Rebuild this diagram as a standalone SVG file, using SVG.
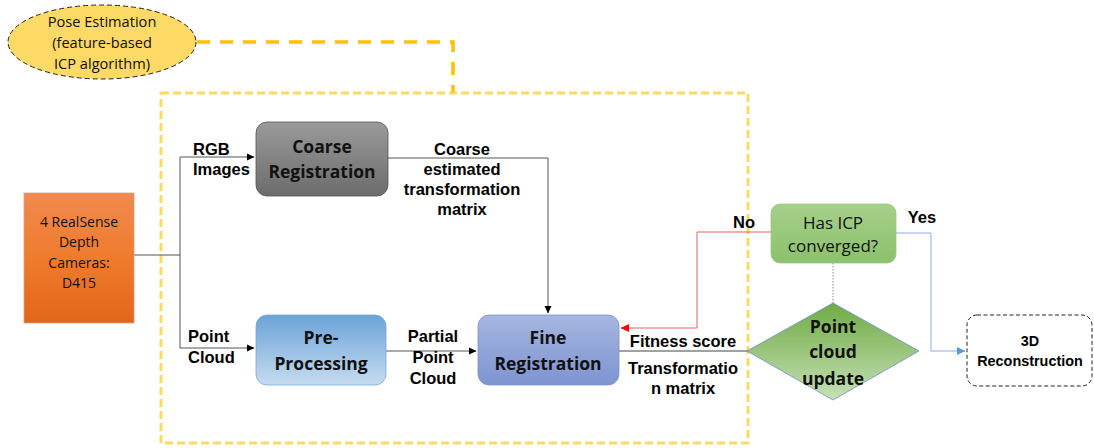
<svg xmlns="http://www.w3.org/2000/svg" width="1094" height="448" viewBox="0 0 1094 448">
  <defs>
    <linearGradient id="gOrange" x1="0" y1="0" x2="0" y2="1">
      <stop offset="0" stop-color="#f08a50"/>
      <stop offset="0.5" stop-color="#f07b2c"/>
      <stop offset="1" stop-color="#e2661a"/>
    </linearGradient>
    <linearGradient id="gGray" x1="0" y1="0" x2="0" y2="1">
      <stop offset="0" stop-color="#9a9a9a"/>
      <stop offset="1" stop-color="#6c6c6c"/>
    </linearGradient>
    <linearGradient id="gBlue" x1="0" y1="0" x2="0" y2="1">
      <stop offset="0" stop-color="#6aa3d8"/>
      <stop offset="1" stop-color="#c6dcf0"/>
    </linearGradient>
    <linearGradient id="gFine" x1="0" y1="0" x2="0" y2="1">
      <stop offset="0" stop-color="#a7b6e0"/>
      <stop offset="1" stop-color="#7d94d2"/>
    </linearGradient>
    <linearGradient id="gGreen" x1="0" y1="0" x2="0" y2="1">
      <stop offset="0" stop-color="#a6cf8b"/>
      <stop offset="1" stop-color="#8cc16c"/>
    </linearGradient>
    <linearGradient id="gDiamond" x1="0" y1="0" x2="0" y2="1">
      <stop offset="0" stop-color="#6fab45"/>
      <stop offset="1" stop-color="#c7e0b6"/>
    </linearGradient>
    <marker id="arrBlack" markerWidth="8" markerHeight="8" refX="7" refY="4" orient="auto" markerUnits="userSpaceOnUse">
      <path d="M0,0.5 L7.5,4 L0,7.5 z" fill="#000"/>
    </marker>
    <marker id="arrRed" markerWidth="9" markerHeight="9" refX="8" refY="4.5" orient="auto" markerUnits="userSpaceOnUse">
      <path d="M0,0.5 L8.5,4.5 L0,8.5 z" fill="#ff0000"/>
    </marker>
    <marker id="arrBlue" markerWidth="9" markerHeight="9" refX="8" refY="4.5" orient="auto" markerUnits="userSpaceOnUse">
      <path d="M0,0.5 L8.5,4.5 L0,8.5 z" fill="#5b9bd5"/>
    </marker>
  </defs>
  <style>
    .lbl { font-family: "Liberation Sans", Arial, sans-serif; font-weight: bold; font-size: 16.5px; fill: #000; text-anchor: middle; }
    .left { text-anchor: start; }
    .box { font-family: "Open Sans", "Liberation Sans", sans-serif; font-weight: bold; font-size: 17.5px; fill: #111; text-anchor: middle; }
    .plain { font-family: "Open Sans", "Liberation Sans", sans-serif; font-size: 14px; fill: #111; text-anchor: middle; }
    .ell { font-size: 14.6px; }
    .icp { font-size: 17px; }
    .rec { font-size: 14.4px; }
    .wire { fill: none; stroke: #555; stroke-width: 1; }
  </style>

  <rect width="1094" height="448" fill="#fff"/>

  <!-- pose-estimation boundary -->
  <g id="pose-region">
    <rect x="161" y="93" width="587" height="350" fill="none" stroke="#ffd966" stroke-width="3" stroke-dasharray="8,4"/>
  </g>

  <!-- connectors -->
  <g id="connectors">
    <path d="M197,42 H453 V92" fill="none" stroke="#ffc000" stroke-width="3.5" stroke-dasharray="13,10"/>
    <path class="wire" d="M134,255 H180"/>
    <path class="wire" d="M180,348 V157 H254" marker-end="url(#arrBlack)"/>
    <path class="wire" d="M180,348 H254" marker-end="url(#arrBlack)"/>
    <path class="wire" d="M388,158 H548 V313" marker-end="url(#arrBlack)"/>
    <path class="wire" d="M386,351 H476" marker-end="url(#arrBlack)"/>
    <path d="M619,351 H748" fill="none" stroke="#444" stroke-width="1.2"/>
    <path d="M771,232 H697 V328 H621" fill="none" stroke="#e06060" stroke-width="1" marker-end="url(#arrRed)"/>
    <path d="M833,263 V303" fill="none" stroke="#888" stroke-width="1" stroke-dasharray="1.5,1.5"/>
    <path d="M896,233 H931 V351 H965" fill="none" stroke="#8faadc" stroke-width="1" marker-end="url(#arrBlue)"/>
  </g>

  <g id="pose-estimation">
    <ellipse cx="102" cy="42" rx="94" ry="37" fill="#fdd966" stroke="#222" stroke-width="1" stroke-dasharray="5,3"/>
    <text class="plain ell" x="102" y="27">Pose Estimation</text>
    <text class="plain ell" x="102" y="48">(feature-based</text>
    <text class="plain ell" x="102" y="69">ICP algorithm)</text>
  </g>

  <g id="cameras">
    <rect x="24" y="193" width="110" height="130" fill="url(#gOrange)" stroke="#d8a080" stroke-width="0.8"/>
    <text class="plain" x="79" y="227">4 RealSense</text>
    <text class="plain" x="79" y="247">Depth</text>
    <text class="plain" x="79" y="268">Cameras:</text>
    <text class="plain" x="79" y="288">D415</text>
  </g>

  <g id="coarse-registration">
    <rect x="256" y="122" width="132" height="74" rx="11" fill="url(#gGray)" stroke="#555" stroke-width="0.8"/>
    <text class="box" x="322" y="153">Coarse</text>
    <text class="box" x="322" y="178">Registration</text>
  </g>

  <g id="pre-processing">
    <rect x="256" y="315" width="130" height="70" rx="11" fill="url(#gBlue)" stroke="#7aa6d6" stroke-width="0.8"/>
    <text class="box" x="321" y="344">Pre-</text>
    <text class="box" x="321" y="370">Processing</text>
  </g>

  <g id="fine-registration">
    <rect x="478" y="315" width="141" height="70" rx="11" fill="url(#gFine)" stroke="#7b93cf" stroke-width="0.8"/>
    <text class="box" x="548" y="344">Fine</text>
    <text class="box" x="548" y="370">Registration</text>
  </g>

  <g id="icp-check">
    <rect x="771" y="204" width="125" height="59" rx="9" fill="url(#gGreen)" stroke="#9cc884" stroke-width="0.8"/>
    <text class="plain icp" x="833" y="229">Has ICP</text>
    <text class="plain icp" x="833" y="252">converged?</text>
  </g>

  <g id="point-cloud-update">
    <polygon points="833,303 919,351 833,400 747,351" fill="url(#gDiamond)" stroke="#6b8ec8" stroke-width="0.8"/>
    <text class="box" x="833" y="333">Point</text>
    <text class="box" x="833" y="358">cloud</text>
    <text class="box" x="833" y="385">update</text>
  </g>

  <g id="reconstruction">
    <rect x="967" y="315" width="125" height="71" rx="10" fill="#fff" stroke="#222" stroke-width="1" stroke-dasharray="4,2.5"/>
    <text class="lbl rec" x="1030" y="346">3D</text>
    <text class="lbl rec" x="1030" y="366">Reconstruction</text>
  </g>

  <!-- connector labels -->
  <g id="labels">
    <text class="lbl left" x="193" y="155">RGB</text>
    <text class="lbl left" x="193" y="175">Images</text>
    <text class="lbl" x="462" y="155">Coarse</text>
    <text class="lbl" x="462" y="175">estimated</text>
    <text class="lbl" x="462" y="195">transformation</text>
    <text class="lbl" x="462" y="215">matrix</text>
    <text class="lbl left" x="188" y="342">Point</text>
    <text class="lbl left" x="188" y="363">Cloud</text>
    <text class="lbl" x="433" y="342">Partial</text>
    <text class="lbl" x="433" y="363">Point</text>
    <text class="lbl" x="433" y="384">Cloud</text>
    <text class="lbl" x="683" y="347">Fitness score</text>
    <text class="lbl" x="683" y="374">Transformatio</text>
    <text class="lbl" x="683" y="394">n matrix</text>
    <text class="lbl" x="744" y="228">No</text>
    <text class="lbl" x="922" y="223">Yes</text>
  </g>
</svg>
